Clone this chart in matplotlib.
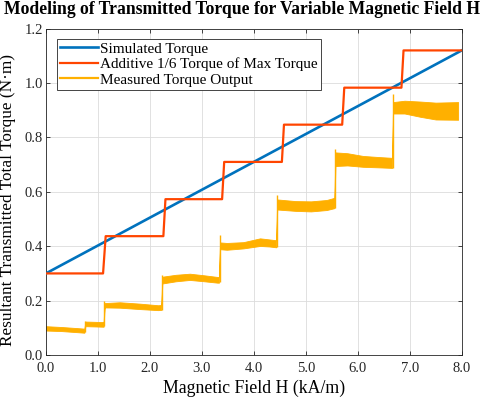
import matplotlib
matplotlib.use("Agg")
import matplotlib.pyplot as plt
import numpy as np

plt.rcParams['font.family'] = ['Liberation Serif', 'DejaVu Serif']

# Simulated torque (linear)
sim_x = [0.0, 8.0]
sim_y = [0.30, 1.12]

# Additive 1/6 torque of max torque (step curve)
step_x = [0.00, 1.10, 1.15, 2.26, 2.30, 3.39, 3.43, 4.54, 4.58, 5.70, 5.74, 6.84, 6.88, 8.00]
step_y = [0.300, 0.300, 0.437, 0.437, 0.573, 0.573, 0.710, 0.710, 0.847, 0.847, 0.983, 0.983, 1.120, 1.120]

# Measured torque output: band envelope (lower / upper)
meas_x = [0.00, 0.30, 0.60, 0.74,
          0.76, 0.95, 1.11,
          1.13, 1.42, 1.80, 2.16, 2.22,
          2.24, 2.50, 2.77, 3.05, 3.30, 3.33,
          3.35, 3.48, 3.80, 4.12, 4.30, 4.43,
          4.45, 4.80, 5.10, 5.40, 5.55,
          5.57, 5.80, 6.10, 6.40, 6.66,
          6.68, 6.90, 7.20, 7.50, 7.93]
meas_lo = [0.090, 0.088, 0.084, 0.082,
           0.106, 0.105, 0.104,
           0.175, 0.174, 0.169, 0.165, 0.166,
           0.263, 0.271, 0.276, 0.271, 0.266, 0.266,
           0.389, 0.387, 0.392, 0.401, 0.399, 0.396,
           0.535, 0.530, 0.528, 0.533, 0.540,
           0.695, 0.697, 0.692, 0.690, 0.688,
           0.888, 0.888, 0.876, 0.866, 0.865]
meas_hi = [0.106, 0.103, 0.099, 0.097,
           0.123, 0.122, 0.121,
           0.191, 0.194, 0.189, 0.183, 0.184,
           0.288, 0.295, 0.299, 0.293, 0.287, 0.287,
           0.414, 0.412, 0.415, 0.429, 0.425, 0.422,
           0.572, 0.566, 0.565, 0.570, 0.578,
           0.745, 0.742, 0.732, 0.728, 0.725,
           0.930, 0.935, 0.932, 0.928, 0.930]

# Transient spikes at step changes: x, from, to
spike_x = [0.75, 1.12, 2.23, 3.34, 4.44, 5.56, 6.67]
spike_lo = [0.085, 0.106, 0.167, 0.267, 0.397, 0.540, 0.688]
spike_hi = [0.126, 0.200, 0.294, 0.440, 0.590, 0.757, 0.960]

xticks = [0.0, 1.0, 2.0, 3.0, 4.0, 5.0, 6.0, 7.0, 8.0]
yticks = [0.0, 0.2, 0.4, 0.6, 0.8, 1.0, 1.2]

blue = '#0072BD'
red = '#FF4500'
yellow = '#FFB000'

fig = plt.figure(figsize=(4.83, 3.98), dpi=100)
ax = fig.add_axes([0.095, 0.108, 0.861, 0.820])

ax.fill_between(meas_x, meas_lo, meas_hi, color=yellow, lw=0.6, edgecolor=yellow)
ax.vlines(spike_x, spike_lo, spike_hi, color=yellow, lw=1.0)
ax.plot(sim_x, sim_y, color=blue, lw=1.9, label='Simulated Torque', zorder=3)
ax.plot(step_x, step_y, color=red, lw=1.6, label='Additive 1/6 Torque of Max Torque', zorder=3)
ax.plot([], [], color=yellow, lw=1.6, label='Measured Torque Output')

ax.set_xlim(0, 8)
ax.set_ylim(0, 1.2)
ax.set_xticks(xticks)
ax.set_yticks(yticks)
ax.set_xticklabels([f'{v:.1f}' for v in xticks])
ax.set_yticklabels([f'{v:.1f}' for v in yticks])
ax.tick_params(direction='in', top=True, right=True, labelsize=10.5, length=3,
               color='#262626', labelcolor='#262626', width=0.6)
ax.tick_params(axis='x', pad=5)
ax.tick_params(axis='y', pad=2)
for s in ax.spines.values():
    s.set_color('#262626')
    s.set_linewidth(0.6)
ax.grid(True, color='#dcdcdc', lw=0.6)
ax.set_axisbelow(True)

ax.set_xlabel('Magnetic Field H (kA/m)', fontsize=12.8, labelpad=3.5)
ax.set_ylabel('Resultant Transmitted Total Torque (N·m)', fontsize=12.4)
ax.yaxis.set_label_coords(-0.072, 0.475)
fig.suptitle('Modeling of Transmitted Torque for Variable Magnetic Field H',
             fontsize=12.7, fontweight='bold', x=0.5, y=0.997)

leg = ax.legend(loc='upper left', bbox_to_anchor=(0.026, 0.969), borderaxespad=0,
                fontsize=11, handlelength=2.5, labelspacing=0.12, borderpad=0.2,
                handletextpad=0.15, fancybox=False, framealpha=1)
leg.get_frame().set_edgecolor('#262626')
leg.get_frame().set_linewidth(0.6)

fig.savefig('out.png', dpi=100)
